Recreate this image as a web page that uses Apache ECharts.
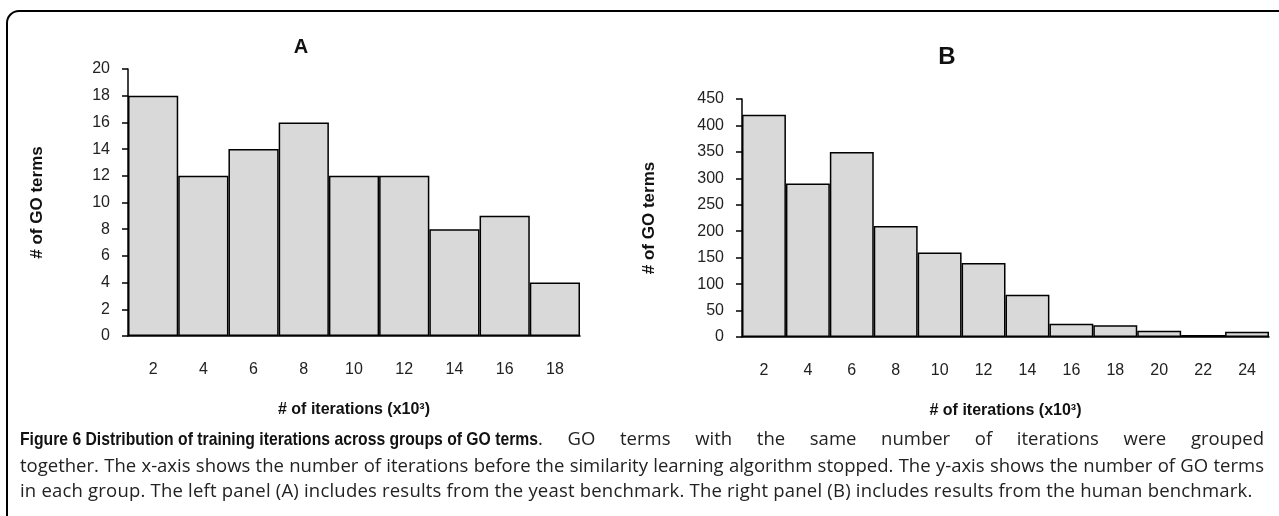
<!DOCTYPE html>
<html>
<head>
<meta charset="utf-8">
<script src="https://cdn.jsdelivr.net/npm/echarts@6/dist/echarts.min.js"></script>
<style>
  html, body { margin: 0; padding: 0; background: #fff; }
  #wrap { position: relative; width: 1279px; height: 516px; overflow: hidden; }
  #main { width: 1279px; height: 516px; }
  #caption { position: absolute; left: 20px; top: 425px; width: 1244px;
    font-family: "Open Sans"; font-size: 18.5px; color: #222; line-height: 25.5px; }
  #caption div { white-space: nowrap; }
  #caption .j { text-align: justify; text-align-last: justify; }
  #caption .last { letter-spacing: 0.2px; }
  #caption .bbox { display: inline-block; width: 518px; overflow: visible; vertical-align: baseline; }
  #caption b { display: inline-block; font-family: "Liberation Sans"; font-size: 18.5px; color: #111;
    transform-origin: 0 50%; white-space: nowrap; }
</style>
</head>
<body>
<div id="wrap">
  <div id="main"></div>
  <div id="caption"></div>
</div>
<script>
// NOTE - 数据
const catsA = ['2', '4', '6', '8', '10', '12', '14', '16', '18']
const valsA = [18, 12, 14, 16, 12, 12, 8, 9, 4]
const catsB = ['2', '4', '6', '8', '10', '12', '14', '16', '18', '20', '22', '24']
const valsB = [420, 290, 350, 210, 160, 140, 80, 25, 22, 12, 4, 10]

const captionBold = 'Figure 6 Distribution of training iterations across groups of GO terms'
const captionLines = [
  '. GO terms with the same number of iterations were grouped',
  'together. The x-axis shows the number of iterations before the similarity learning algorithm stopped. The y-axis shows the number of GO terms',
  'in each group. The left panel (A) includes results from the yeast benchmark. The right panel (B) includes results from the human benchmark.'
]

const font = 'Liberation Sans'

// NOTE - 图注
const cap = document.querySelector('#caption')
captionLines.forEach((line, i) => {
  const div = document.createElement('div')
  div.className = i < 2 ? 'j' : 'last'
  if (i === 0) {
    const box = document.createElement('span')
    box.className = 'bbox'
    const b = document.createElement('b')
    b.textContent = captionBold
    box.appendChild(b)
    div.appendChild(box)
  }
  div.appendChild(document.createTextNode(line))
  cap.appendChild(div)
})
// 加粗部分横向压缩到原图宽度 (~518px)
const boldEl = cap.querySelector('b')
const bw = boldEl.getBoundingClientRect().width
boldEl.style.transform = `scaleX(${518 / bw})`

const xAxisOf = (idx, cats) => ({
  type: 'category',
  gridIndex: idx,
  data: cats,
  name: '# of iterations (x10³)',
  nameLocation: 'middle',
  nameGap: 66,
  nameTextStyle: { fontFamily: font, fontSize: 16, fontWeight: 'bold', color: '#111' },
  axisLine: { lineStyle: { color: '#000', width: 1.5 } },
  axisTick: { show: false },
  axisLabel: { margin: 26, fontFamily: font, fontSize: 16, color: '#222' }
})

const yAxisOf = (idx, max, interval, gap) => ({
  type: 'value',
  gridIndex: idx,
  min: 0,
  max,
  interval,
  name: '# of GO terms',
  nameLocation: 'middle',
  nameGap: gap,
  nameTextStyle: { fontFamily: font, fontSize: 17, fontWeight: 'bold', color: '#111' },
  axisLine: { show: true, lineStyle: { color: '#000', width: 1.5 } },
  axisTick: { show: true, length: 6, lineStyle: { color: '#000', width: 1.5 } },
  axisLabel: { margin: 18, fontFamily: font, fontSize: 16, color: '#222' },
  splitLine: { show: false }
})

const barOf = (idx, vals) => ({
  type: 'bar',
  xAxisIndex: idx,
  yAxisIndex: idx,
  data: vals,
  barCategoryGap: '0%',
  itemStyle: { color: '#d9d9d9', borderColor: '#000', borderWidth: 1.5 },
  silent: true
})

const myChart = echarts.init(document.querySelector('#main'))
const option = {
  animation: false,
  title: [
    {
      text: 'A', left: 296, top: 42, textAlign: 'center', textVerticalAlign: 'middle',
      textStyle: { fontFamily: font, fontSize: 20, fontWeight: 'bold', color: '#111' }
    },
    {
      text: 'B', left: 942, top: 52, textAlign: 'center', textVerticalAlign: 'middle',
      textStyle: { fontFamily: font, fontSize: 24, fontWeight: 'bold', color: '#111' }
    }
  ],
  grid: [
    { left: 128, right: 699, top: 69, bottom: 180 },
    { left: 742, right: 10, top: 99, bottom: 179 }
  ],
  xAxis: [xAxisOf(0, catsA), xAxisOf(1, catsB)],
  yAxis: [yAxisOf(0, 20, 2, 82), yAxisOf(1, 450, 50, 84)],
  series: [barOf(0, valsA), barOf(1, valsB)],
  graphic: [
    // 外框
    {
      type: 'rect',
      shape: { x: 7, y: 11, width: 1400, height: 600, r: 12 },
      style: { fill: 'none', stroke: '#000', lineWidth: 2 },
      silent: true
    }
  ]
}
myChart.setOption(option)
</script>
</body>
</html>
